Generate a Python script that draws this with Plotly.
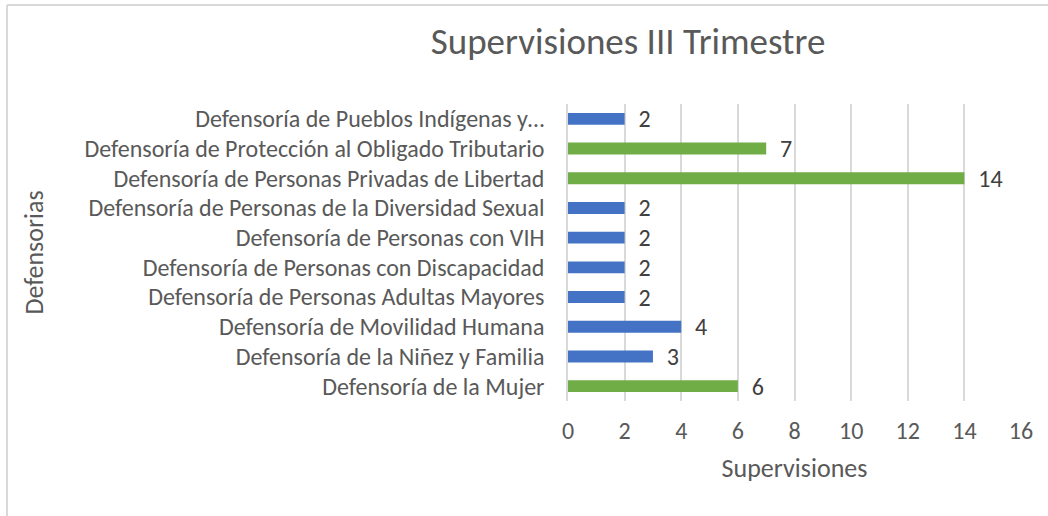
import plotly.graph_objects as go

# categorias de abajo hacia arriba (como en el grafico de Excel)
defensorias = [
    "Defensoría de la Mujer",
    "Defensoría de la Niñez y Familia",
    "Defensoría de Movilidad Humana",
    "Defensoría de Personas Adultas Mayores",
    "Defensoría de Personas con Discapacidad",
    "Defensoría de Personas con VIH",
    "Defensoría de Personas de la Diversidad Sexual",
    "Defensoría de Personas Privadas de Libertad",
    "Defensoría de Protección al Obligado Tributario",
    "Defensoría de Pueblos Indígenas y…",
]
supervisiones = [6, 3, 4, 2, 2, 2, 2, 14, 7, 2]
grupo = ["b", "a", "a", "a", "a", "a", "a", "b", "b", "a"]
x_ticks = [0, 2, 4, 6, 8, 10, 12, 14, 16]

color_grupo = {"a": "#4472C4", "b": "#70AD47"}
gris = "#595959"
fuente = "Carlito, Lato, sans-serif"

fig = go.Figure()
fig.add_trace(go.Bar(
    x=supervisiones,
    y=defensorias,
    orientation="h",
    marker=dict(color=[color_grupo[g] for g in grupo], line=dict(width=0)),
    text=supervisiones,
    texttemplate="  %{x}",
    textposition="outside",
    constraintext="none",
    textfont=dict(size=24, color="#404040", family=fuente),
    cliponaxis=False,
    hovertemplate="%{y}: %{x}<extra></extra>",
))

fig.update_layout(
    width=1048, height=516,
    margin=dict(l=568, r=27, t=104, b=115),
    paper_bgcolor="white",
    plot_bgcolor="white",
    bargap=0.6,
    showlegend=False,
    font=dict(family=fuente, color=gris),
    title=dict(
        text="Supervisiones III Trimestre",
        font=dict(size=37, color=gris, family=fuente),
        x=628 / 1048, xanchor="center", xref="container",
        y=1 - 41 / 516, yanchor="middle", yref="container",
    ),
)

fig.update_xaxes(
    range=[0, 16],
    tickvals=x_ticks,
    showgrid=True, gridcolor="#D9D9D9", gridwidth=1.5,
    zeroline=False, showline=False,
    tickfont=dict(size=24, color=gris),
    ticks="outside", ticklen=8, tickcolor="white",
    title=dict(text="Supervisiones", font=dict(size=26, color=gris), standoff=15),
)
fig.update_yaxes(
    type="category",
    showline=True, linecolor="#D9D9D9", linewidth=1.5,
    showgrid=False,
    tickfont=dict(size=24, color=gris),
    ticks="outside", ticklen=17, tickcolor="white",
)

# titulo del eje y colocado a mano (el margen izquierdo es muy grande)
fig.add_annotation(
    text="Defensorias", textangle=-90,
    xref="paper", yref="paper",
    x=-(568 - 33) / 453, y=0.5,
    xanchor="center", yanchor="middle",
    showarrow=False, font=dict(size=26, color=gris, family=fuente),
)

# borde del area del grafico (solo arriba e izquierda se ven en la imagen)
borde_x = -(568 - 7) / 453
borde_y = 1 + (104 - 5) / 297
fig.add_shape(type="line", xref="paper", yref="paper",
              x0=borde_x, x1=1 + 27 / 297, y0=borde_y, y1=borde_y,
              line=dict(color="#D9D9D9", width=2))
fig.add_shape(type="line", xref="paper", yref="paper",
              x0=borde_x, x1=borde_x, y0=borde_y, y1=-115 / 297,
              line=dict(color="#D9D9D9", width=2))

# quitar el margen del body para que la figura quede en (0, 0)
fig.write_html("out.html", config={"displayModeBar": False},
               post_script="document.body.style.margin='0';")
